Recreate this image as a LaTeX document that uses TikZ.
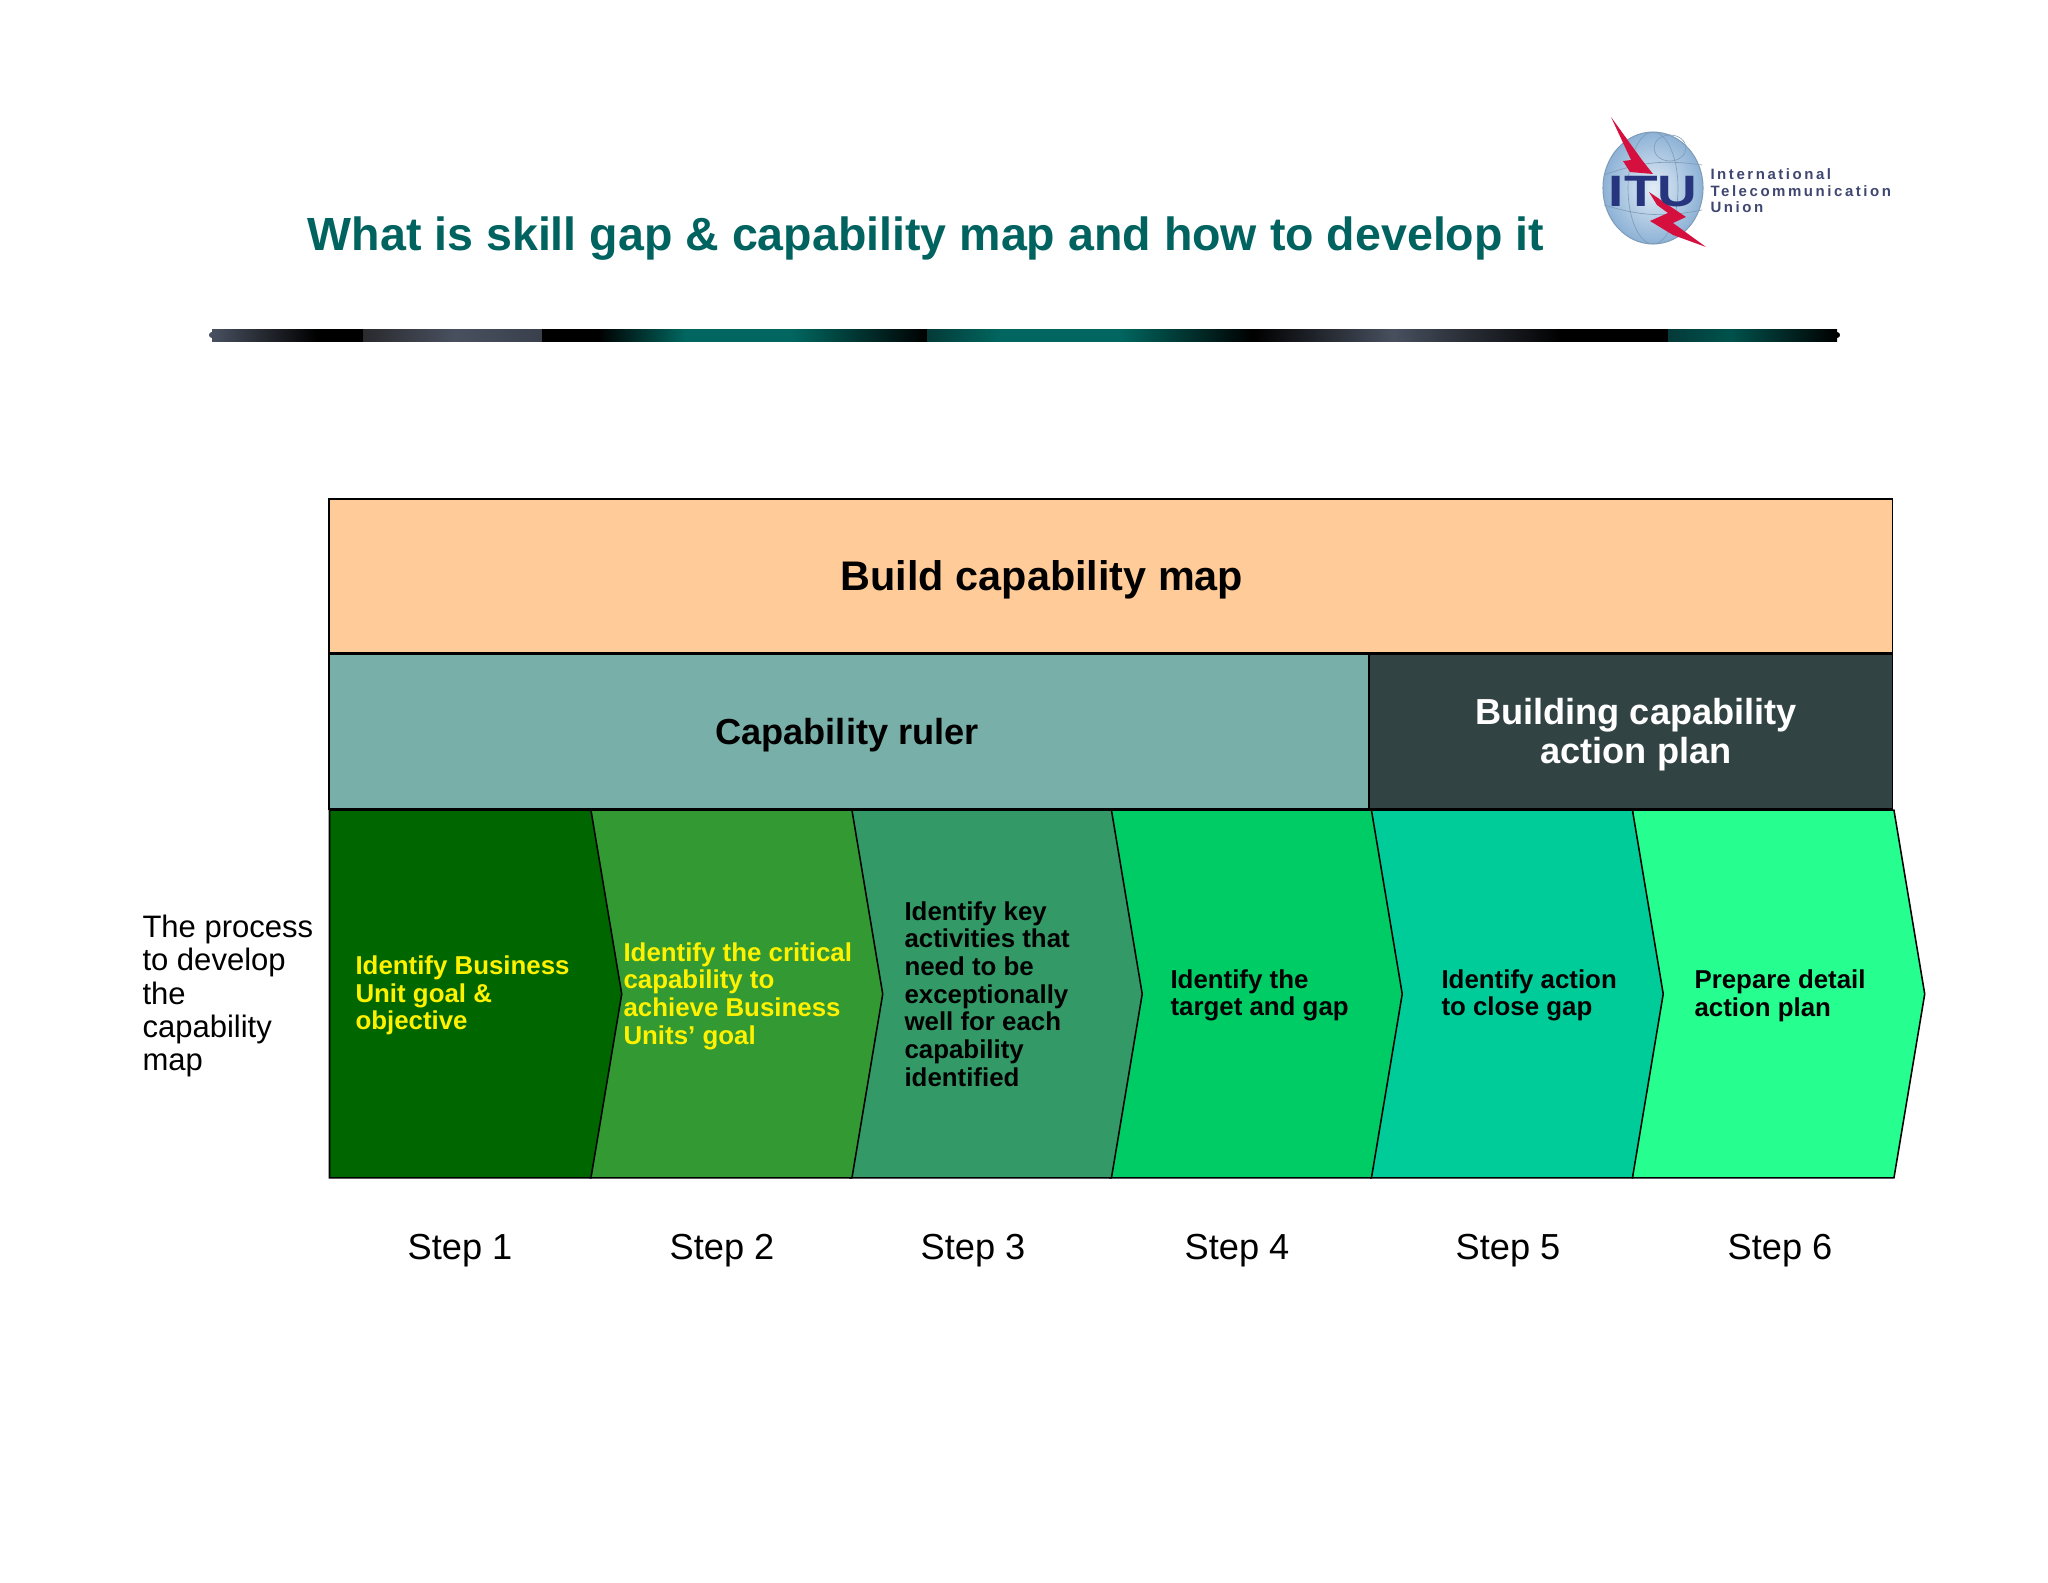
\documentclass[tikz,border=0pt]{standalone}
\usepackage{fontspec}
\setmainfont{Liberation Sans}
\newfontfamily\logofont[LetterSpace=17]{Liberation Sans Bold}
\usetikzlibrary{positioning,shapes.symbols,shapes.geometric}
\definecolor{itutitle}{HTML}{00635F}
\definecolor{itunavy}{HTML}{27357F}
\definecolor{itugrey}{HTML}{3F4770}
\definecolor{itured}{HTML}{D5103F}
\definecolor{globeline}{HTML}{7F9DB8}
\definecolor{globeedge}{HTML}{8DB2D6}
\definecolor{globemid}{HTML}{E2ECF6}
\definecolor{buildfill}{HTML}{FFCC99}
\definecolor{rulerfill}{HTML}{78B0A9}
\definecolor{actionfill}{HTML}{324344}
\definecolor{stepA}{HTML}{006600}
\definecolor{stepB}{HTML}{339933}
\definecolor{stepC}{HTML}{339966}
\definecolor{stepD}{HTML}{00CC66}
\definecolor{stepE}{HTML}{00CC99}
\definecolor{stepF}{HTML}{26FF90}
\definecolor{barteal}{HTML}{00665F}
\definecolor{bardark}{HTML}{043A38}
\definecolor{barslate}{HTML}{48505F}
\definecolor{barsoot}{HTML}{2A2A2E}

\begin{document}
\begin{tikzpicture}[
  x=0.3867pt, y=-0.3867pt,
  band/.style={draw=black, line width=0.7pt, outer sep=0pt, align=center,
               minimum height=59.5pt, inner sep=0pt},
  chev/.style={draw=black, line width=0.6pt, outer sep=0pt, shape=signal, signal to=east,
               signal from=nowhere, signal pointer angle=161, anchor=west,
               minimum width=113pt, minimum height=142.2pt, inner sep=0pt},
  steptext/.style={font=\fontsize{10}{10.7}\selectfont\bfseries, align=left,
                   anchor=west, inner sep=0pt},
  steplbl/.style={font=\fontsize{14}{16}\selectfont, inner sep=0pt},
  logotext/.style={font=\fontsize{5.8}{6.4}\selectfont\logofont, text=itugrey,
                   align=left, anchor=west, inner sep=0pt},
  bolt/.style={fill=itured, draw=none},
  gridline/.style={draw=globeline, line width=0.25pt},
  barpart/.style={draw=none, shading=axis, shading angle=90},
]
\useasboundingbox (0,0) rectangle (2048,1582);

%% Title
\node[font=\fontsize{18}{22}\selectfont\bfseries, text=itutitle, inner sep=0pt] (title)
  at (926,239) {What is skill gap \& capability map and how to develop it};

%% Logo
\node[ellipse, inner sep=0pt, minimum width=38.7pt, minimum height=43.3pt, draw=globeline,
      line width=0.4pt, inner color=globemid, outer color=globeedge] (globe) at (1653,188) {};
\draw[gridline] (1670,148) ellipse (16 and 13);
\draw[gridline] (1653,188) ellipse (25 and 56);
\draw[gridline] (1604,175) to[bend left=14] (1702,165);
\draw[gridline] (1604,205) to[bend right=14] (1702,210);
\fill[bolt] (1611,117) -- (1642,160) -- (1653,174) -- (1630,172) -- (1623,161) -- (1631,160) -- cycle;
\fill[bolt] (1649,192) -- (1686,217) -- (1673,223) -- (1706,247) -- (1673,235) -- (1650,221) -- (1668,213) -- (1657,205) -- cycle;
\node[font=\fontsize{17}{17}\selectfont\bfseries, text=itunavy, transform shape, xscale=1.25, inner sep=0pt] (itu)
  at (1653,192) {ITU};
\node[logotext] (ituname) at (1710,191) {International\\Telecommunication\\Union};

%% Rule under the title
\fill[barslate] (212,335) circle (3);
\fill[black] (1837,335) circle (3);
\shade[barpart, left color=barslate, right color=black] (212,329) rectangle (317,341);
\shade[barpart, left color=black, right color=black] (317,329) rectangle (363,341);
\shade[barpart, left color=barsoot, right color=barslate] (363,329) rectangle (455,341);
\shade[barpart, left color=barslate, right color=barslate!80!black] (455,329) rectangle (542,341);
\shade[barpart, left color=black, right color=black] (542,329) rectangle (598,341);
\shade[barpart, left color=black, right color=barteal] (598,329) rectangle (685,341);
\shade[barpart, left color=barteal, right color=barteal] (685,329) rectangle (792,341);
\shade[barpart, left color=barteal, right color=black] (792,329) rectangle (927,341);
\shade[barpart, left color=bardark, right color=barteal] (927,329) rectangle (1000,341);
\shade[barpart, left color=barteal, right color=barteal] (1000,329) rectangle (1120,341);
\shade[barpart, left color=barteal, right color=black] (1120,329) rectangle (1253,341);
\shade[barpart, left color=black, right color=barslate] (1253,329) rectangle (1393,341);
\shade[barpart, left color=barslate, right color=black] (1393,329) rectangle (1562,341);
\shade[barpart, left color=black, right color=black] (1562,329) rectangle (1668,341);
\shade[barpart, left color=bardark, right color=barteal!80!black] (1668,329) rectangle (1730,341);
\shade[barpart, left color=barteal!80!black, right color=black] (1730,329) rectangle (1837,341);

%% Bands
\node[band, fill=buildfill, minimum width=604.6pt, anchor=north west] (build) at (329,499) {};
\node[band, fill=rulerfill, minimum width=402.2pt, minimum height=60pt, below=0.3pt of build.south west, anchor=north west] (ruler) {};
\node[band, fill=actionfill, minimum width=202.4pt, minimum height=60pt, below=0.3pt of build.south east, anchor=north east] (action) {};
\node[font=\fontsize{16}{18}\selectfont\bfseries, inner sep=0pt] (buildtext) at (1042,580) {Build capability map};
\node[font=\fontsize{14}{16}\selectfont\bfseries, inner sep=0pt] (rulertext) at (847,735) {Capability ruler};
\node[font=\fontsize{14}{15.1}\selectfont\bfseries, text=white, align=center, inner sep=0pt] (actiontext)
  at (1636,735) {Building capability\\action plan};

%% Chevrons, last one first so each tip lies on the next one
\node[chev, fill=stepF] (chevF) at (1632.5,994) {};
\node[chev, fill=stepE] (chevE) at (1371,994) {};
\node[chev, fill=stepD] (chevD) at (1110,994) {};
\node[chev, fill=stepC] (chevC) at (850,994) {};
\node[chev, fill=stepB] (chevB) at (590.5,994) {};
\node[chev, fill=stepA] (chevA) at (329.5,994) {};

%% Chevron texts
\node[steptext, text=yellow] (textA) at (355,995.5) {Identify Business\\Unit goal \&\\objective};
\node[steptext, text=yellow] (textB) at (623,996) {Identify the critical\\capability to\\achieve Business\\Units’ goal};
\node[steptext] (textC) at (904,994) {Identify key\\activities that\\need to be\\exceptionally\\well for each\\capability\\identified};
\node[steptext] (textD) at (1170,995.5) {Identify the\\target and gap};
\node[steptext] (textE) at (1441,995.5) {Identify action\\to close gap};
\node[steptext] (textF) at (1694,995.5) {Prepare detail\\action plan};

%% Left caption and step labels
\node[font=\fontsize{12}{12.85}\selectfont, align=left, anchor=west, inner sep=0pt] (process)
  at (142,996) {The process\\to develop\\the\\capability\\map};
\node[steplbl] (stepone)   at (460,1251)  {Step 1};
\node[steplbl] (steptwo)   at (722,1251)  {Step 2};
\node[steplbl] (stepthree) at (973,1251)  {Step 3};
\node[steplbl] (stepfour)  at (1237,1251) {Step 4};
\node[steplbl] (stepfive)  at (1508,1251) {Step 5};
\node[steplbl] (stepsix)   at (1780,1251) {Step 6};

\end{tikzpicture}
\end{document}
